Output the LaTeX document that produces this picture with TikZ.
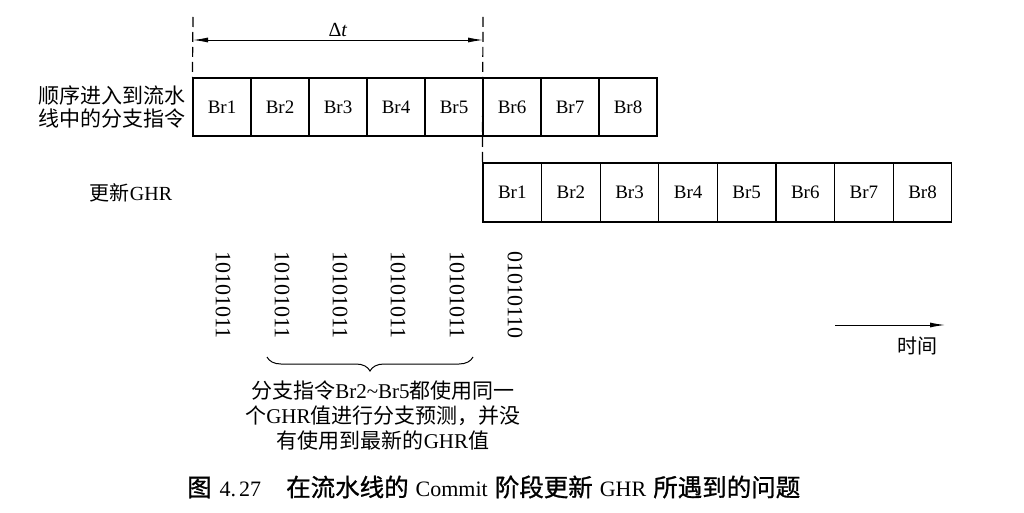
\documentclass[tikz,border=0pt]{standalone}
\usepackage{fontspec}
\newfontfamily\cjk{Noto Sans CJK SC}
\newfontfamily\cjkb[FakeBold=1]{Noto Sans CJK SC}
\newfontfamily\tnr{Liberation Serif}
\usetikzlibrary{arrows.meta,decorations.pathreplacing}
\newcommand\capcjk[1]{{\fontsize{24.5}{24.5}\selectfont\cjkb #1}}
\newcommand\caplat[1]{{\fontsize{22}{22}\selectfont\tnr #1}}
\begin{document}
\begin{tikzpicture}[x=1pt,y=-1pt,
  brbox/.style={draw,line width=1.2pt,minimum width=58pt,minimum height=58pt,inner sep=0pt,font=\fontsize{19}{19}\selectfont\tnr},
  brboxb/.style={brbox,minimum width=58.6pt,minimum height=59pt},
  dashline/.style={line width=1.2pt,dash pattern=on 10pt off 5pt},
  bits/.style={rotate=-90,inner sep=0pt,font=\fontsize{22}{22}\selectfont\tnr},
  lbl/.style={inner sep=0pt,font=\fontsize{21}{23}\selectfont\cjk,align=center},
  mytip/.tip={Latex[length=15pt,width=5pt]},
]
\useasboundingbox[fill=white] (0,0) rectangle (1024,513);
% top row
\foreach \i in {1,...,8} {\node[brbox] (a\i) at ({222+58*(\i-1)},107) {Br\i};}
% second row
\foreach \i in {1,...,8} {\node[brboxb] (c\i) at ({512.3+58.6*(\i-1)},192.5) {Br\i};}
% dashed guides
\coordinate (t1) at (193,17);
\coordinate (t2) at (483,17);
\draw[dashline] (t1) -- (a1.north west);
\draw[dashline] (t2) -- (c1.north west);
% delta t
\coordinate (d1) at (193,40);
\coordinate (d2) at (483,40);
\draw[line width=0.9pt,mytip-mytip] (d1) -- (d2);
\node[inner sep=0pt,font=\fontsize{20}{20}\selectfont\tnr] (dtl) at (338,30) {Δ\textit{t}};
% left labels
\node[lbl,anchor=east] (L1) at (186,107) {顺序进入到流水\\线中的分支指令};
\node[inner sep=0pt,font=\fontsize{20}{20}\selectfont] (L2) at (131,193) {{\cjk 更新}{\tnr GHR}};
% GHR values
\node[bits] (g1) at (223,295) {10101011};
\node[bits] (g2) at (282,295) {10101011};
\node[bits] (g3) at (340,295) {10101011};
\node[bits] (g4) at (398,295) {10101011};
\node[bits] (g5) at (457,295) {10101011};
\node[bits] (g6) at (515,295) {01010110};
% brace
\coordinate (bl) at (267,357);
\coordinate (br) at (473,357);
\draw[line width=1pt,decorate,decoration={brace,mirror,amplitude=14pt}] (bl) -- (br);
\node[lbl,font=\fontsize{21}{25}\selectfont\cjk] (T) at (383,416)
  {分支指令{\tnr Br2\textasciitilde Br5}都使用同一\\个{\tnr GHR}值进行分支预测，并没\\有使用到最新的{\tnr GHR}值};
% time arrow
\coordinate (h1) at (835,325);
\coordinate (h2) at (945,325);
\draw[line width=1pt,-mytip] (h1) -- (h2);
\node[inner sep=0pt,font=\fontsize{20}{20}\selectfont\cjk] (time) at (917,346) {时间};
% caption
\node[inner sep=0pt,anchor=west,font=\fontsize{22}{22}\selectfont] (cap) at (187,487)
  {\capcjk{图}\hspace{8pt}\caplat{4.\hspace{3pt}27}\hspace{25pt}\capcjk{在流水线的}\hspace{7pt}\caplat{Commit}\hspace{7pt}\capcjk{阶段更新}\hspace{7pt}\caplat{GHR}\hspace{7pt}\capcjk{所遇到的问题}};
\end{tikzpicture}
\end{document}
